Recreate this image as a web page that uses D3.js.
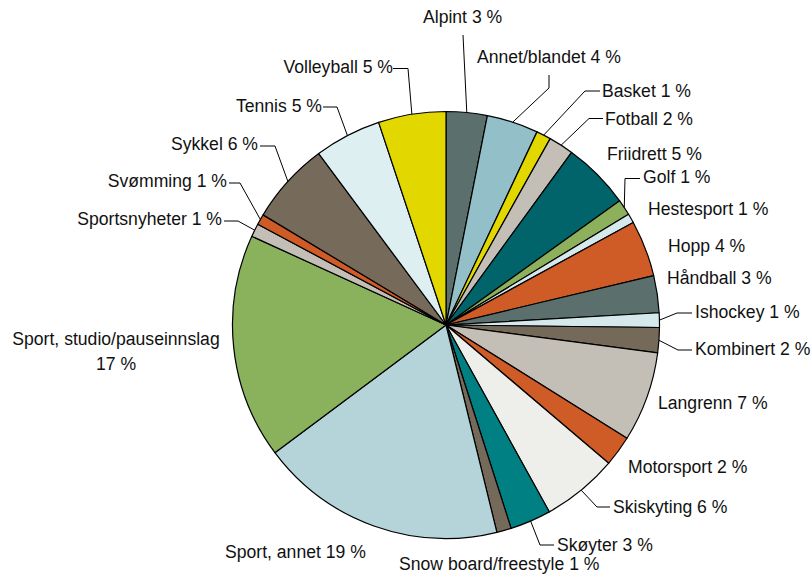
<!DOCTYPE html>
<html>
<head>
<meta charset="utf-8">
<script src="https://cdn.jsdelivr.net/npm/d3@7"></script>
<style>
  html, body { margin: 0; padding: 0; background: #fff; }
  svg { display: block; }
  text { font-family: "Liberation Sans", Arial, sans-serif; font-size: 17.6px; fill: #111; }
</style>
</head>
<body>
<svg id="chart" width="811" height="578"></svg>
<script>
// ---- data ----
const categories = ["Alpint", "Annet/blandet", "Basket", "Fotball", "Friidrett", "Golf",
  "Hestesport", "Hopp", "Håndball", "Ishockey", "Kombinert", "Langrenn", "Motorsport",
  "Skiskyting", "Skøyter", "Snow board/freestyle", "Sport, annet",
  "Sport, studio/pauseinnslag", "Sportsnyheter", "Svømming", "Sykkel", "Tennis", "Volleyball"];
const values = [3.1, 3.9, 1.1, 1.9, 5.1, 1.2, 0.7, 4.25, 2.8, 1.1, 1.9, 6.8, 2.3, 5.75,
  3.1, 1.1, 18.6, 17.0, 1.0, 0.8, 6.2, 5.05, 5.1];
const pctLabels = [3, 4, 1, 2, 5, 1, 1, 4, 3, 1, 2, 7, 2, 6, 3, 1, 19, 17, 1, 1, 6, 5, 5];

// ---- style ----
const colors = ["#5b6f6c", "#93bfc8", "#e2d800", "#c3bfb7", "#00646a", "#8db05d",
  "#d5e9ec", "#cf5b27", "#5b6f6c", "#d5e9ec", "#75695a", "#c3bfb7", "#cf5b27",
  "#eeefeb", "#008083", "#75695a", "#b4d4d9", "#8ab25c", "#c3bfb7", "#cf5b27",
  "#766a5a", "#deeff1", "#e2d800"];

// ---- label layout (text position, anchor, leader elbow points) ----
const labelLayout = [
  {x: 423, y: 23, a: "start", lead: [[463, 35]]},
  {x: 477, y: 63, a: "start", lead: [[549, 75], [549, 88]]},
  {x: 602, y: 97, a: "start", lead: [[600, 91], [585, 91]]},
  {x: 605, y: 125, a: "start", lead: [[603, 118.5], [589, 118.5]]},
  {x: 607, y: 160, a: "start"},
  {x: 643, y: 183, a: "start", lead: [[640, 178.5], [625, 178.5]]},
  {x: 648, y: 215, a: "start"},
  {x: 668, y: 252, a: "start"},
  {x: 667, y: 284, a: "start"},
  {x: 695, y: 317.5, a: "start", lead: [[692, 313], [677, 313]]},
  {x: 695, y: 355, a: "start", lead: [[692, 350], [678, 350]]},
  {x: 658, y: 409, a: "start"},
  {x: 628, y: 473, a: "start"},
  {x: 613, y: 513, a: "start", lead: [[610, 507], [597, 507]]},
  {x: 557, y: 551, a: "start", lead: [[554, 545], [540, 545]]},
  {x: 399, y: 570, a: "start"},
  {x: 225, y: 558, a: "start"},
  {x: 116, y: 345, a: "middle", twoLine: true},
  {x: 222, y: 225, a: "end", lead: [[224, 221], [238, 221]]},
  {x: 227, y: 187, a: "end", lead: [[229, 183], [240, 183]]},
  {x: 258, y: 150, a: "end", lead: [[260, 146], [275, 146]]},
  {x: 322, y: 112, a: "end", lead: [[323, 107], [337, 107]]},
  {x: 393, y: 73, a: "end", lead: [[393, 68.5], [408, 68.5]]}
];

const cx = 446, cy = 325, R = 213.5;
const svg = d3.select("#chart");
const g = svg.append("g").attr("transform", `translate(${cx},${cy})`);

const data = categories.map((c, i) => ({name: c, value: values[i], pct: pctLabels[i], i}));
const pie = d3.pie().sort(null).value(d => d.value).startAngle(0).endAngle(2 * Math.PI);
const arcs = pie(data);
const arc = d3.arc().innerRadius(0).outerRadius(R);

g.selectAll("path.slice").data(arcs).enter().append("path")
  .attr("class", "slice")
  .attr("d", arc)
  .attr("fill", d => colors[d.data.i])
  .attr("stroke", "#000")
  .attr("stroke-width", 1.2)
  .attr("stroke-linejoin", "round");

// leader lines
const line = d3.line();
arcs.forEach(d => {
  const L = labelLayout[d.data.i];
  if (!L.lead) return;
  const mid = (d.startAngle + d.endAngle) / 2;
  const p = [cx + R * Math.sin(mid), cy - R * Math.cos(mid)];
  svg.append("path")
    .attr("d", line(L.lead.concat([p])))
    .attr("fill", "none")
    .attr("stroke", "#000")
    .attr("stroke-width", 1);
});

// labels
arcs.forEach(d => {
  const L = labelLayout[d.data.i];
  if (L.twoLine) {
    const t = svg.append("text").attr("text-anchor", L.a);
    t.append("tspan").attr("x", L.x).attr("y", L.y).text(d.data.name);
    t.append("tspan").attr("x", L.x).attr("y", L.y + 25).text(d.data.pct + " %");
  } else {
    svg.append("text")
      .attr("x", L.x).attr("y", L.y)
      .attr("text-anchor", L.a)
      .text(d.data.name + " " + d.data.pct + " %");
  }
});
</script>
</body>
</html>
